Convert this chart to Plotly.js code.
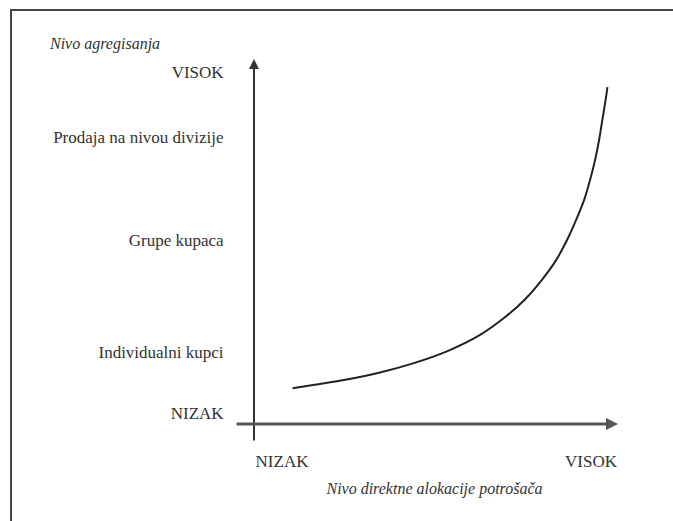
<!DOCTYPE html>
<html lang="sr-Latn">
<head>
<meta charset="utf-8">
<script src="https://cdn.plot.ly/plotly-3.0.1.min.js"></script>
</head>
<body style="margin:0;padding:0;background:#fff">
<div style="position:relative;width:673px;height:521px">
  <div id="chart" style="position:absolute;left:0;top:0;width:673px;height:521px"></div>
  <div style="position:absolute;left:10px;top:9px;width:661px;height:520px;border-top:2px solid #444;border-left:2px solid #444;border-right:1px solid #ccc;pointer-events:none"></div>
</div>
<script>
// ---- data ----
var curveX = [1.06, 1.62, 2.55, 3.46, 4.37, 5.30, 6.21, 6.90, 7.45, 7.91, 8.30, 8.60, 8.85, 9.07, 9.23, 9.37, 9.48, 9.57, 9.66, 9.71];
var curveY = [0.98, 1.07, 1.22, 1.41, 1.66, 1.99, 2.44, 2.93, 3.42, 3.95, 4.49, 5.04, 5.59, 6.14, 6.68, 7.23, 7.78, 8.33, 8.88, 9.23];

var yTickVals = [0.30, 1.97, 5.04, 7.86, 9.64];
var yTickText = ['NIZAK', 'Individualni kupci', 'Grupe kupaca', 'Prodaja na nivou divizije', 'VISOK'];

var xTickVals = [0.77, 9.26];
var xTickText = ['NIZAK', 'VISOK'];

var yTitle = 'Nivo agregisanja';
var xTitle = 'Nivo direktne alokacije potro\u0161a\u010da';

// axis extents (data units): [start, arrow tip]
var xAxisExtent = [-0.52, 10.0];
var yAxisExtent = [-0.49, 10.0];

var fontFam = "Liberation Serif, serif";

var traces = [{
  type: 'scatter',
  mode: 'lines',
  x: curveX,
  y: curveY,
  line: { color: '#222', width: 2, shape: 'spline', smoothing: 1 },
  hoverinfo: 'skip'
}];

var layout = {
  width: 673,
  height: 521,
  margin: { l: 230, r: 34, t: 50, b: 76 },
  paper_bgcolor: '#fff',
  plot_bgcolor: '#fff',
  showlegend: false,
  font: { family: fontFam, color: '#333', size: 17 },
  title: {
    text: '<i>' + yTitle + '</i>',
    x: 50 / 673, xanchor: 'left', xref: 'container',
    y: 1 - 43 / 521, yanchor: 'middle', yref: 'container',
    font: { family: fontFam, size: 16, color: '#333' }
  },
  xaxis: {
    range: [-0.659, 10.577],
    showgrid: false, zeroline: false, showline: false,
    tickvals: xTickVals, ticktext: xTickText,
    ticks: 'outside', ticklen: 1, tickcolor: 'rgba(0,0,0,0)',
    tickfont: { family: fontFam, size: 17, color: '#333' },
    title: { text: '<i>' + xTitle + '</i>', standoff: 12,
             font: { family: fontFam, size: 16, color: '#333' } },
    fixedrange: true
  },
  yaxis: {
    range: [-0.575, 10.247],
    showgrid: false, zeroline: false, showline: false,
    tickvals: yTickVals, ticktext: yTickText,
    ticks: 'outside', ticklen: 2, tickcolor: 'rgba(0,0,0,0)',
    tickfont: { family: fontFam, size: 17, color: '#333' },
    fixedrange: true
  },
  annotations: [
    { x: 0, y: yAxisExtent[1], ax: 0, ay: yAxisExtent[0], xref: 'x', yref: 'y', axref: 'x', ayref: 'y',
      text: '', showarrow: true, arrowhead: 2, arrowsize: 1, arrowwidth: 2, arrowcolor: '#333' },
    { x: xAxisExtent[1], y: 0, ax: xAxisExtent[0], ay: 0, xref: 'x', yref: 'y', axref: 'x', ayref: 'y',
      text: '', showarrow: true, arrowhead: 2, arrowsize: 0.8, arrowwidth: 3, arrowcolor: '#555' }
  ]
};

Plotly.newPlot('chart', traces, layout, { displayModeBar: false, staticPlot: true }).then(function () {
  var nodes = document.querySelectorAll('#chart svg text');
  for (var i = 0; i < nodes.length; i++) {
    nodes[i].style.setProperty('font-family', "'Liberation Serif', serif", 'important');
  }
});
</script>
</body>
</html>
